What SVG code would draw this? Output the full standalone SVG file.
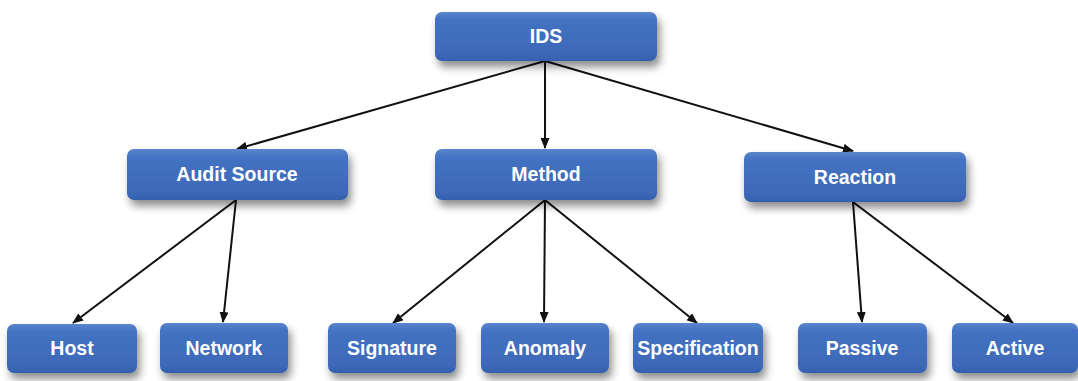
<svg xmlns="http://www.w3.org/2000/svg" width="1078" height="381" viewBox="0 0 1078 381">
<style>
.box{fill:url(#g);filter:url(#sh);}
.lbl{font-family:"Liberation Sans",Arial,sans-serif;font-weight:bold;font-size:19.5px;fill:#ffffff;text-anchor:middle;}
.c{stroke:#111;stroke-width:2;fill:none;marker-end:url(#ah);}
</style>
<defs>
<linearGradient id="g" x1="0" y1="0" x2="0" y2="1">
<stop offset="0" stop-color="#5a86cc"/>
<stop offset="0.15" stop-color="#4472c2"/>
<stop offset="0.85" stop-color="#3d69b8"/>
<stop offset="1" stop-color="#3360ad"/>
</linearGradient>
<filter id="sh" x="-10%" y="-20%" width="125%" height="170%">
<feGaussianBlur in="SourceAlpha" stdDeviation="4"/>
<feOffset dx="3" dy="6" result="b"/>
<feComponentTransfer><feFuncA type="linear" slope="0.45"/></feComponentTransfer>
<feMerge><feMergeNode/><feMergeNode in="SourceGraphic"/></feMerge>
</filter>
<marker id="ah" markerWidth="11" markerHeight="9" refX="10" refY="4.5" orient="auto" markerUnits="userSpaceOnUse">
<path d="M0,0 L11,4.5 L0,9 Z" fill="#111"/>
</marker>
</defs>
<g id="connectors">
<line class="c" x1="545" y1="61" x2="237" y2="149"/>
<line class="c" x1="545" y1="61" x2="545" y2="148"/>
<line class="c" x1="545" y1="61" x2="853" y2="151"/>
<line class="c" x1="236" y1="200" x2="73" y2="323"/>
<line class="c" x1="236" y1="200" x2="223" y2="322"/>
<line class="c" x1="545" y1="200" x2="393" y2="323"/>
<line class="c" x1="545" y1="200" x2="544" y2="322"/>
<line class="c" x1="545" y1="200" x2="697" y2="323"/>
<line class="c" x1="853" y1="202" x2="862" y2="322"/>
<line class="c" x1="853" y1="202" x2="1013" y2="323"/>
</g>
<g id="ids"><rect class="box" x="435" y="12" width="222" height="49" rx="7"/><text class="lbl" x="546" y="43">IDS</text></g>
<g id="audit"><rect class="box" x="127" y="149" width="221" height="51" rx="7"/><text class="lbl" x="237" y="181">Audit Source</text></g>
<g id="method"><rect class="box" x="435" y="149" width="222" height="51" rx="7"/><text class="lbl" x="546" y="181">Method</text></g>
<g id="reaction"><rect class="box" x="744" y="152" width="222" height="50" rx="7"/><text class="lbl" x="855" y="184">Reaction</text></g>
<g id="host"><rect class="box" x="7" y="324" width="130" height="49" rx="7"/><text class="lbl" x="72" y="355">Host</text></g>
<g id="network"><rect class="box" x="160" y="323" width="128" height="50" rx="7"/><text class="lbl" x="224" y="355">Network</text></g>
<g id="signature"><rect class="box" x="328" y="323" width="128" height="50" rx="7"/><text class="lbl" x="392" y="355">Signature</text></g>
<g id="anomaly"><rect class="box" x="481" y="323" width="128" height="50" rx="7"/><text class="lbl" x="545" y="355">Anomaly</text></g>
<g id="specification"><rect class="box" x="633" y="323" width="130" height="50" rx="7"/><text class="lbl" x="698" y="355">Specification</text></g>
<g id="passive"><rect class="box" x="798" y="323" width="129" height="50" rx="7"/><text class="lbl" x="862" y="355">Passive</text></g>
<g id="active"><rect class="box" x="952" y="323" width="126" height="50" rx="7"/><text class="lbl" x="1015" y="355">Active</text></g>
</svg>
